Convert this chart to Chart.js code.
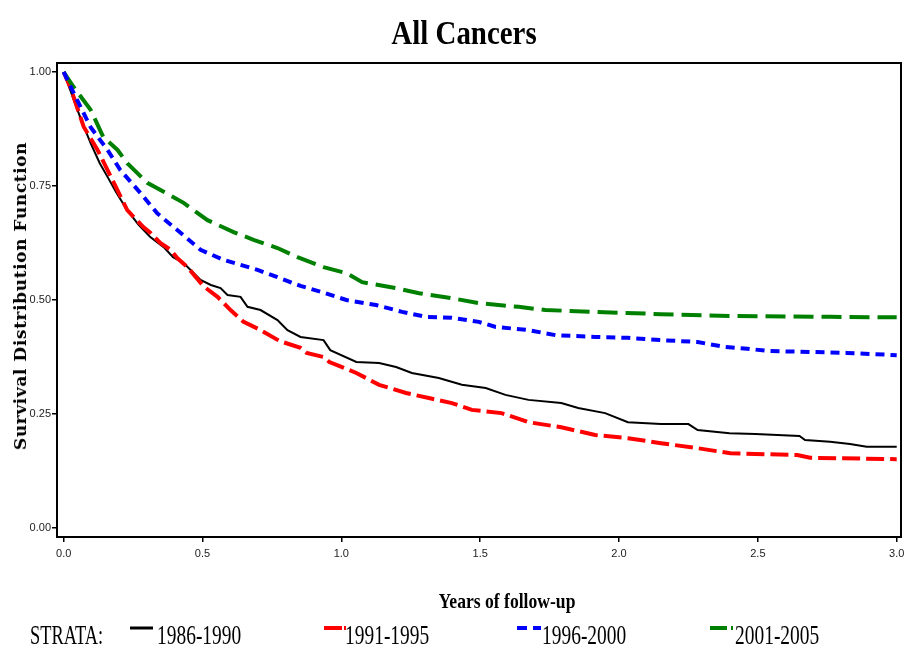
<!DOCTYPE html>
<html>
<head>
<meta charset="utf-8">
<title>All Cancers</title>
<script src="https://cdn.jsdelivr.net/npm/chart.js@4.4.1/dist/chart.umd.min.js"></script>
<style>
  html, body { margin: 0; padding: 0; background: #fff; }
  #wrap { position: relative; width: 904px; height: 663px; overflow: hidden; }
  #chart { position: absolute; left: 0; top: 0; }
  .txt { position: absolute; white-space: nowrap; line-height: 1; color: #000; }
  #title { font: bold 34px "Liberation Serif", serif; left: 464px; top: 14px; transform: translateX(-50%) scaleX(0.85); }
  #xtitle { font: bold 22px "Liberation Serif", serif; left: 507px; top: 588px; transform: translateX(-50%) scaleX(0.8); }
  #ytitle { font: bold 17px "DejaVu Serif", serif; letter-spacing: 0.6px; left: 20px; top: 296px; transform: translate(-50%, -50%) rotate(-90deg); }
  .leg { font: 27px "Liberation Serif", serif; top: 620px; transform-origin: left center; transform: scaleX(0.72); }
  #legsvg { position: absolute; left: 0; top: 600px; }
</style>
</head>
<body>
<div id="wrap">
  <canvas id="chart" width="904" height="663"></canvas>
  <div class="txt" id="title">All Cancers</div>
  <div class="txt" id="xtitle">Years of follow-up</div>
  <div class="txt" id="ytitle">Survival Distribution Function</div>
  <div class="txt leg" style="left:30px; transform: scaleX(0.68);">STRATA:</div>
  <div id="legend"></div>
  <svg id="legsvg" width="904" height="63"></svg>
</div>
<script>
// Data (years since diagnosis, survival probability)
const years1986 = [0, 0.03, 0.06, 0.097, 0.13, 0.158, 0.19, 0.229, 0.27, 0.312, 0.36, 0.394, 0.432, 0.493, 0.53, 0.565, 0.59, 0.637, 0.662, 0.709, 0.77, 0.806, 0.853, 0.936, 0.96, 1.054, 1.136, 1.197, 1.254, 1.351, 1.434, 1.52, 1.591, 1.674, 1.792, 1.853, 1.95, 2.032, 2.151, 2.25, 2.283, 2.398, 2.491, 2.65, 2.67, 2.76, 2.832, 2.892, 3.0];
const surv1986 = [1.0, 0.95, 0.9, 0.844, 0.8, 0.77, 0.735, 0.697, 0.665, 0.638, 0.616, 0.594, 0.581, 0.544, 0.533, 0.526, 0.511, 0.507, 0.485, 0.478, 0.456, 0.434, 0.419, 0.412, 0.39, 0.364, 0.362, 0.353, 0.34, 0.329, 0.314, 0.307, 0.292, 0.281, 0.274, 0.263, 0.252, 0.232, 0.228, 0.228, 0.215, 0.208, 0.206, 0.202, 0.193, 0.189, 0.184, 0.178, 0.178];

const years1991 = [0, 0.025, 0.072, 0.122, 0.158, 0.229, 0.287, 0.313, 0.348, 0.385, 0.409, 0.446, 0.504, 0.554, 0.601, 0.648, 0.709, 0.778, 0.853, 0.875, 0.936, 0.957, 1.054, 1.136, 1.233, 1.315, 1.398, 1.47, 1.577, 1.674, 1.792, 1.914, 2.032, 2.151, 2.283, 2.401, 2.642, 2.688, 3.0];
const surv1991 = [1.0, 0.965, 0.88, 0.829, 0.785, 0.697, 0.66, 0.647, 0.625, 0.61, 0.592, 0.572, 0.53, 0.507, 0.478, 0.452, 0.434, 0.41, 0.395, 0.384, 0.375, 0.364, 0.34, 0.314, 0.296, 0.285, 0.274, 0.259, 0.252, 0.232, 0.221, 0.204, 0.197, 0.186, 0.175, 0.164, 0.16, 0.154, 0.151];

const years1996 = [0, 0.036, 0.097, 0.158, 0.204, 0.276, 0.337, 0.41, 0.493, 0.576, 0.637, 0.698, 0.77, 0.853, 0.936, 1.018, 1.125, 1.219, 1.305, 1.398, 1.495, 1.556, 1.674, 1.771, 1.914, 2.032, 2.151, 2.283, 2.38, 2.462, 2.545, 2.703, 2.821, 3.0];
const surv1996 = [1.0, 0.954, 0.879, 0.829, 0.785, 0.735, 0.69, 0.653, 0.61, 0.588, 0.577, 0.566, 0.55, 0.531, 0.516, 0.5, 0.489, 0.474, 0.463, 0.461, 0.452, 0.441, 0.434, 0.423, 0.419, 0.417, 0.412, 0.408, 0.397, 0.393, 0.388, 0.386, 0.384, 0.379];

const years2001 = [0, 0.036, 0.097, 0.143, 0.194, 0.229, 0.301, 0.394, 0.432, 0.518, 0.612, 0.684, 0.77, 0.842, 0.936, 1.018, 1.075, 1.197, 1.28, 1.398, 1.495, 1.638, 1.735, 1.914, 2.151, 2.401, 2.76, 3.0];
const surv2001 = [1.0, 0.967, 0.917, 0.857, 0.829, 0.8, 0.757, 0.726, 0.713, 0.675, 0.649, 0.632, 0.614, 0.594, 0.572, 0.559, 0.539, 0.526, 0.515, 0.504, 0.493, 0.485, 0.478, 0.474, 0.469, 0.465, 0.463, 0.462];

const strata = ["1986-1990", "1991-1995", "1996-2000", "2001-2005"];
const xTicks = [0, 0.5, 1.0, 1.5, 2.0, 2.5, 3.0];
const yTicks = [0, 0.25, 0.5, 0.75, 1.0];

const toPoints = (xs, ys) => xs.map((x, i) => ({ x: x, y: ys[i] }));

// STYLES
const styles = [
  { color: "#000000", width: 2, dash: [], order: 2 },
  { color: "#ff0000", width: 4, dash: [18, 6], order: 1 },
  { color: "#0000ff", width: 4, dash: [9, 6], order: 0 },
  { color: "#008000", width: 4, dash: [20, 8], order: 0 },
];
const series = [
  toPoints(years1986, surv1986),
  toPoints(years1991, surv1991),
  toPoints(years1996, surv1996),
  toPoints(years2001, surv2001),
];

// frame round the plot area
const framePlugin = {
  id: "frame",
  afterDraw(chart) {
    const { ctx, chartArea: a } = chart;
    ctx.save();
    ctx.strokeStyle = "#000";
    ctx.lineWidth = 2;
    ctx.strokeRect(a.left, a.top, a.right - a.left, a.bottom - a.top);
    ctx.restore();
  },
};

new Chart(document.getElementById("chart"), {
  type: "line",
  data: {
    datasets: series.map((pts, i) => ({
      label: strata[i],
      data: pts,
      borderColor: styles[i].color,
      borderWidth: styles[i].width,
      borderDash: styles[i].dash,
      borderCapStyle: "butt",
      order: styles[i].order,
      pointRadius: 0,
      tension: 0,
      fill: false,
    })),
  },
  options: {
    responsive: false,
    animation: false,
    devicePixelRatio: 1,
    layout: { padding: { left: 0, top: 63, right: 3, bottom: 0 } },
    plugins: {
      legend: { display: false },
      title: { display: false },
      tooltip: { enabled: false },
    },
    scales: {
      x: {
        type: "linear",
        min: -0.024,
        max: 3.0155,
        afterBuildTicks: (s) => { s.ticks = xTicks.map((v) => ({ value: v })); },
        afterFit: (s) => { s.height = 126; s.paddingLeft = 0; s.paddingRight = 0; },
        ticks: {
          callback: (v) => Number(v).toFixed(1),
          font: { family: "Liberation Sans", size: 11 },
          color: "#222",
          padding: 5,
          maxRotation: 0,
          autoSkip: false,
        },
        grid: { drawOnChartArea: false, tickLength: 5, color: "#000", lineWidth: 1.5 },
        border: { color: "#000", width: 2 },
      },
      y: {
        type: "linear",
        min: -0.0197,
        max: 1.0197,
        afterBuildTicks: (s) => { s.ticks = yTicks.map((v) => ({ value: v })); },
        afterFit: (s) => { s.width = 57; s.paddingTop = 0; s.paddingBottom = 0; },
        ticks: {
          callback: (v) => Number(v).toFixed(2),
          font: { family: "Liberation Sans", size: 11 },
          color: "#222",
          padding: 1,
          autoSkip: false,
        },
        grid: { drawOnChartArea: false, tickLength: 5, color: "#000", lineWidth: 1.5 },
        border: { color: "#000", width: 2 },
      },
    },
  },
  plugins: [framePlugin],
});

// LEGEND (STRATA row)
const legendLeft = [157, 345, 542, 735];
const legend = document.getElementById("legend");
strata.forEach((name, i) => {
  const div = document.createElement("div");
  div.className = "txt leg";
  div.style.left = legendLeft[i] + "px";
  div.textContent = name;
  legend.appendChild(div);
});

const svg = document.getElementById("legsvg");
const sampleLines = [
  { x1: 130, x2: 153, i: 0 },
  { x1: 324, x2: 342, i: 1 },
  { x1: 344, x2: 346, i: 1 },
  { x1: 517, x2: 527, i: 2 },
  { x1: 533, x2: 541, i: 2 },
  { x1: 710, x2: 727, i: 3 },
  { x1: 731, x2: 733, i: 3 },
];
sampleLines.forEach((l) => {
  const line = document.createElementNS("http://www.w3.org/2000/svg", "line");
  line.setAttribute("x1", l.x1);
  line.setAttribute("x2", l.x2);
  line.setAttribute("y1", 28);
  line.setAttribute("y2", 28);
  line.setAttribute("stroke", styles[l.i].color);
  line.setAttribute("stroke-width", l.i === 0 ? 3 : 4);
  svg.appendChild(line);
});
</script>
</body>
</html>
